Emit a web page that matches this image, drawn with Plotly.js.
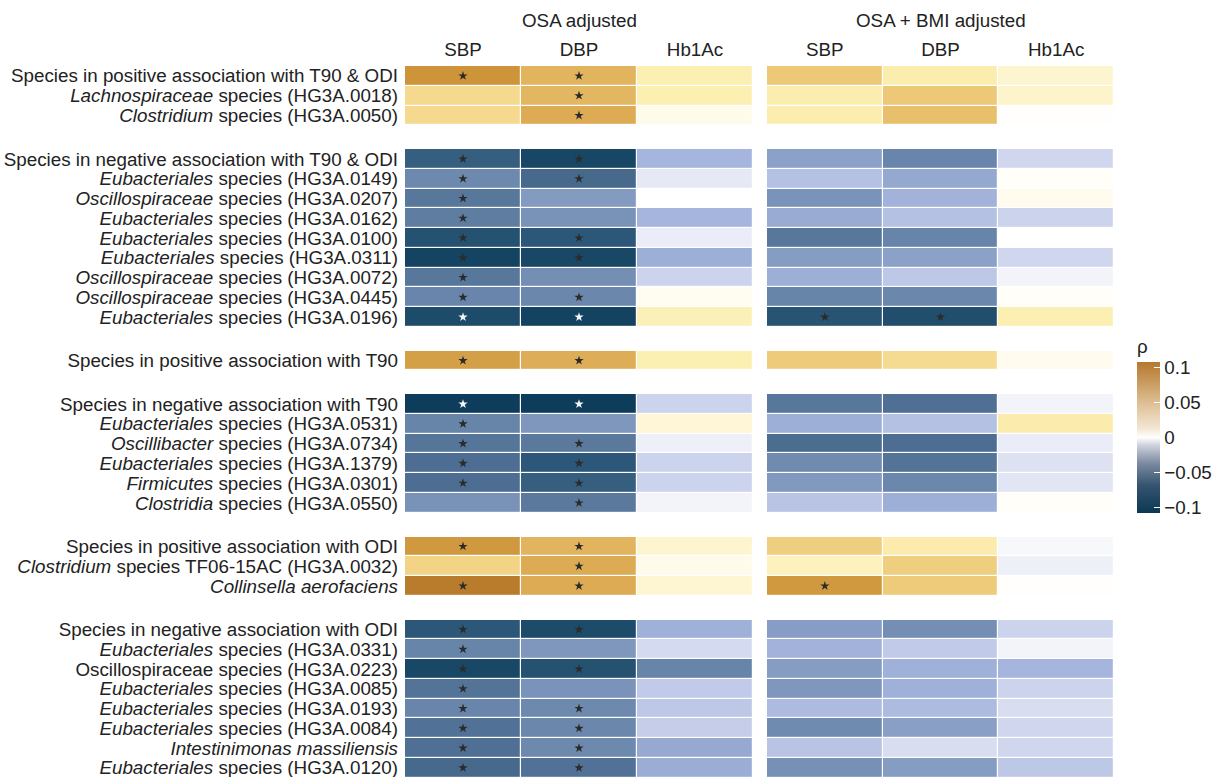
<!DOCTYPE html>
<html>
<head>
<meta charset="utf-8">
<script src="https://cdn.plot.ly/plotly-3.0.1.min.js"></script>
<style>
  html, body { margin: 0; padding: 0; background: #ffffff; }
  #chart { width: 1213px; height: 777px; }
</style>
</head>
<body>
<div id="chart"></div>
<script>
// Species, in display order; the numbers of rows in each block are in groupSizes
const groupSizes = [3, 9, 1, 6, 3, 8];
const rowLabels = [
  'Species in positive association with T90 & ODI',
  '<i>Lachnospiraceae</i> species (HG3A.0018)',
  '<i>Clostridium</i> species (HG3A.0050)',
  'Species in negative association with T90 & ODI',
  '<i>Eubacteriales</i> species (HG3A.0149)',
  '<i>Oscillospiraceae</i> species (HG3A.0207)',
  '<i>Eubacteriales</i> species (HG3A.0162)',
  '<i>Eubacteriales</i> species (HG3A.0100)',
  '<i>Eubacteriales</i> species (HG3A.0311)',
  '<i>Oscillospiraceae</i> species (HG3A.0072)',
  '<i>Oscillospiraceae</i> species (HG3A.0445)',
  '<i>Eubacteriales</i> species (HG3A.0196)',
  'Species in positive association with T90',
  'Species in negative association with T90',
  '<i>Eubacteriales</i> species (HG3A.0531)',
  '<i>Oscillibacter</i> species (HG3A.0734)',
  '<i>Eubacteriales</i> species (HG3A.1379)',
  '<i>Firmicutes</i> species (HG3A.0301)',
  '<i>Clostridia</i> species (HG3A.0550)',
  'Species in positive association with ODI',
  '<i>Clostridium</i> species TF06-15AC (HG3A.0032)',
  '<i>Collinsella aerofaciens</i>',
  'Species in negative association with ODI',
  '<i>Eubacteriales</i> species (HG3A.0331)',
  'Oscillospiraceae species (HG3A.0223)',
  '<i>Eubacteriales</i> species (HG3A.0085)',
  '<i>Eubacteriales</i> species (HG3A.0193)',
  '<i>Eubacteriales</i> species (HG3A.0084)',
  '<i>Intestinimonas massiliensis</i>',
  '<i>Eubacteriales</i> species (HG3A.0120)'
];

const columns = ['SBP', 'DBP', 'Hb1Ac'];
const panelTitles = ['OSA adjusted', 'OSA + BMI adjusted'];

// Spearman rho, OSA adjusted
const osaSBP = [
  0.088, 0.040, 0.040,
  -0.075, -0.048, -0.058, -0.055, -0.084, -0.098, -0.058, -0.050, -0.090,
  0.080,
  -0.106, -0.051, -0.059, -0.063, -0.063, -0.043,
  0.085, 0.044, 0.106,
  -0.080, -0.051, -0.094, -0.060, -0.050, -0.061, -0.062, -0.066
];
const osaDBP = [
  0.066, 0.064, 0.072,
  -0.095, -0.066, -0.038, -0.043, -0.080, -0.094, -0.045, -0.049, -0.099,
  0.070,
  -0.106, -0.040, -0.057, -0.080, -0.075, -0.057,
  0.066, 0.072, 0.072,
  -0.090, -0.040, -0.084, -0.042, -0.048, -0.049, -0.048, -0.061
];
const osaHbA1c = [
  0.022, 0.022, 0.006,
  -0.022, -0.006, 0.000, -0.022, -0.005, -0.026, -0.012, 0.004, 0.020,
  0.022,
  -0.012, 0.012, -0.004, -0.012, -0.012, -0.003,
  0.014, 0.006, 0.013,
  -0.025, -0.010, -0.051, -0.015, -0.016, -0.014, -0.029, -0.027
];

// Spearman rho, OSA + BMI adjusted
const bmiSBP = [
  0.052, 0.024, 0.024,
  -0.034, -0.018, -0.042, -0.028, -0.058, -0.037, -0.026, -0.051, -0.083,
  0.050,
  -0.058, -0.026, -0.064, -0.047, -0.039, -0.017,
  0.048, 0.019, 0.085,
  -0.036, -0.024, -0.037, -0.040, -0.020, -0.047, -0.017, -0.044
];
const bmiDBP = [
  0.024, 0.052, 0.058,
  -0.050, -0.030, -0.024, -0.018, -0.051, -0.034, -0.016, -0.049, -0.087,
  0.038,
  -0.062, -0.018, -0.063, -0.060, -0.049, -0.026,
  0.025, 0.048, 0.050,
  -0.045, -0.015, -0.025, -0.025, -0.020, -0.035, -0.009, -0.037
];
const bmiHbA1c = [
  0.014, 0.015, 0.001,
  -0.011, 0.002, 0.005, -0.012, 0.000, -0.011, -0.003, 0.002, 0.022,
  0.005,
  -0.003, 0.025, -0.005, -0.008, -0.007, 0.002,
  -0.002, -0.004, 0.001,
  -0.012, -0.003, -0.022, -0.012, -0.009, -0.011, -0.011, -0.016
];

// Significance marks: 0 = none, 1 = star, 2 = star drawn light on a dark cell
const osaSBPSig = [1,0,0, 1,1,1,1,1,1,1,1,2, 1, 2,1,1,1,1,0, 1,0,1, 1,1,1,1,1,1,1,1];
const osaDBPSig = [1,1,1, 1,1,0,0,1,1,0,1,2, 1, 2,0,1,1,1,1, 1,1,1, 1,0,1,0,1,1,1,1];
const osaHbA1cSig = [0,0,0, 0,0,0,0,0,0,0,0,0, 0, 0,0,0,0,0,0, 0,0,0, 0,0,0,0,0,0,0,0];
const bmiSBPSig = [0,0,0, 0,0,0,0,0,0,0,0,1, 0, 0,0,0,0,0,0, 0,0,1, 0,0,0,0,0,0,0,0];
const bmiDBPSig = [0,0,0, 0,0,0,0,0,0,0,0,1, 0, 0,0,0,0,0,0, 0,0,0, 0,0,0,0,0,0,0,0];
const bmiHbA1cSig = [0,0,0, 0,0,0,0,0,0,0,0,0, 0, 0,0,0,0,0,0, 0,0,0, 0,0,0,0,0,0,0,0];

// Colour key ticks
const keyTicks = [-0.1, -0.05, 0, 0.05, 0.1];

// ---- layout of rows: blocks separated by a blank band ----
const GAP = 1.2;
const edges = [-0.5];
const centers = [];
const rowSlots = [];   // z-row index of each species row
let pos = -0.5;
let slot = 0;
groupSizes.forEach((n, g) => {
  for (let i = 0; i < n; i++) {
    centers.push(pos + 0.5);
    rowSlots.push(slot++);
    pos += 1;
    edges.push(pos);
  }
  if (g < groupSizes.length - 1) {
    slot++;             // empty band
    pos += GAP;
    edges.push(pos);
  }
});
const nSlots = slot;

function buildZ(cols) {
  const z = [];
  for (let s = 0; s < nSlots; s++) z.push([null, null, null]);
  rowSlots.forEach((s, i) => { z[s] = cols.map(c => c[i]); });
  return z;
}

const cellScale = [
  [0.00, '#0a3a57'],
  [0.10, '#1f4d6c'],
  [0.20, '#46698c'],
  [0.30, '#7690b6'],
  [0.40, '#a6b5de'],
  [0.45, '#d0d6ed'],
  [0.50, '#ffffff'],
  [0.55, '#fef7da'],
  [0.60, '#fcefb2'],
  [0.70, '#f3d486'],
  [0.80, '#e1b45d'],
  [0.90, '#cd943a'],
  [1.00, '#b5772a']
];

const barScale = [
  [0.00, '#0c3853'],
  [0.18, '#34536f'],
  [0.33, '#7c8aa1'],
  [0.45, '#cfd3dc'],
  [0.50, '#ffffff'],
  [0.56, '#f3e6d2'],
  [0.72, '#dfc198'],
  [0.86, '#c99c60'],
  [1.00, '#b5782f']
];

const ZMAX = 0.11;
const FONT = 'Liberation Sans, Arial, Helvetica, sans-serif';
const FS = 18.8;
const TXT = '#222222';

const panelData = [
  { xa: 'x', values: [osaSBP, osaDBP, osaHbA1c], sig: [osaSBPSig, osaDBPSig, osaHbA1cSig] },
  { xa: 'x2', values: [bmiSBP, bmiDBP, bmiHbA1c], sig: [bmiSBPSig, bmiDBPSig, bmiHbA1cSig] }
];

const traces = [];
panelData.forEach(p => {
  traces.push({
    type: 'heatmap',
    x: [0, 1, 2],
    y: edges,
    z: buildZ(p.values),
    xaxis: p.xa, yaxis: 'y',
    colorscale: cellScale,
    zmin: -ZMAX, zmax: ZMAX,
    xgap: 1.2, ygap: 1.2,
    showscale: false,
    hoverinfo: 'skip'
  });
  const sx = [], sy = [], sc = [];
  p.sig.forEach((col, ci) => {
    col.forEach((v, i) => {
      if (v > 0) { sx.push(ci); sy.push(centers[i]); sc.push(v === 2 ? '#f4f6fa' : '#2b2b2b'); }
    });
  });
  traces.push({
    type: 'scatter', mode: 'markers',
    x: sx, y: sy, xaxis: p.xa, yaxis: 'y',
    marker: { symbol: 'star', size: 7, color: sc, line: { width: 0 } },
    hoverinfo: 'skip', showlegend: false
  });
});

const H = 777, W = 1213;

// colour key for rho
traces.push({
  type: 'scatter', mode: 'markers',
  x: [null, null], y: [null, null], xaxis: 'x', yaxis: 'y',
  showlegend: false, hoverinfo: 'skip',
  marker: {
    color: [-0.108, 0.108], cmin: -0.108, cmax: 0.108,
    colorscale: barScale, showscale: true,
    colorbar: {
      x: 1137 / W, xanchor: 'left',
      y: 1 - 513 / H, yanchor: 'bottom',
      len: 177, lenmode: 'pixels',
      thickness: 23, thicknessmode: 'pixels',
      outlinewidth: 0, borderwidth: 0,
      tickvals: keyTicks,
      ticks: 'inside', ticklen: 6, tickcolor: '#ffffff', tickwidth: 1,
      tickfont: { family: FONT, size: FS, color: TXT },
      title: { text: 'ρ', side: 'top', font: { family: FONT, size: FS, color: TXT } },
      xpad: 0, ypad: 0
    }
  }
});

const plotTop = 66;
const pxPerRow = 19.77;
const yBottom = -0.5 + (H - plotTop) / pxPerRow;

const xCommon = {
  range: [-0.5, 2.5],
  tickvals: [0, 1, 2],
  ticktext: columns,
  side: 'top',
  ticks: '',
  ticklabelstandoff: 5,
  showgrid: false, zeroline: false, showline: false,
  tickfont: { family: FONT, size: FS, color: TXT },
  anchor: 'y',
  fixedrange: true,
  automargin: false
};

const layout = {
  width: W, height: H,
  margin: { l: 0, r: 0, t: 0, b: 0, autoexpand: false },
  paper_bgcolor: '#ffffff', plot_bgcolor: 'rgba(0,0,0,0)',
  showlegend: false,
  font: { family: FONT, color: TXT },
  xaxis: Object.assign({}, xCommon, { domain: [405 / W, 753 / W] }),
  xaxis2: Object.assign({}, xCommon, { domain: [767 / W, 1114 / W] }),
  yaxis: {
    domain: [0, 1 - plotTop / H],
    range: [yBottom, -0.5],
    tickvals: centers,
    ticktext: rowLabels,
    ticks: '',
    ticklabelstandoff: 6,
    ticklabeloverflow: 'allow',
    showgrid: false, zeroline: false, showline: false,
    tickfont: { family: FONT, size: FS, color: TXT },
    fixedrange: true,
    automargin: false
  },
  annotations: panelTitles.map((t, i) => ({
    text: t,
    xref: 'paper', yref: 'paper',
    x: i === 0 ? (405 + 753) / 2 / W : (767 + 1114) / 2 / W,
    y: 1 - 20 / H,
    xanchor: 'center', yanchor: 'middle',
    showarrow: false,
    font: { family: FONT, size: FS, color: TXT }
  }))
};

Plotly.newPlot('chart', traces, layout, { displayModeBar: false, staticPlot: true });
</script>
</body>
</html>
